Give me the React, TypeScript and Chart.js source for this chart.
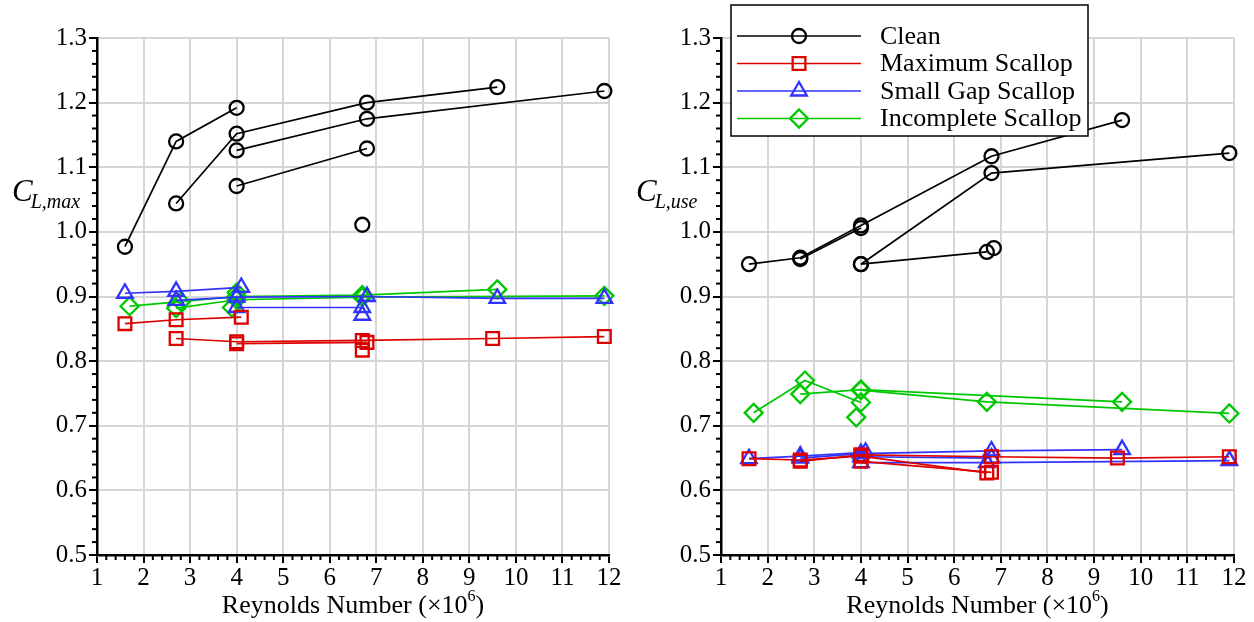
import React, { useEffect, useRef } from "react";
import { Chart, registerables } from "chart.js";

Chart.register(...registerables);

type Pt = [number, number];

// ---------- axis definitions ----------
const reMin = 1;
const reMax = 12;
const clMin = 0.5;
const clMax = 1.3;
const legendLabels = ["Clean", "Maximum Scallop", "Small Gap Scallop", "Incomplete Scallop"];

// ---------- Left panel: C_L,max ----------
const maxClean1: Pt[] = [[1.6, 0.977], [2.7, 1.140], [4.0, 1.192]];
const maxClean2: Pt[] = [[2.7, 1.044], [4.0, 1.152], [6.8, 1.200], [9.6, 1.224]];
const maxClean3: Pt[] = [[4.0, 1.126], [6.8, 1.175], [11.9, 1.218]];
const maxClean4: Pt[] = [[4.0, 1.071], [6.8, 1.129]];
const maxClean5: Pt[] = [[6.7, 1.011]];

const maxMS1: Pt[] = [[1.6, 0.858], [2.7, 0.864], [4.1, 0.868]];
const maxMS2: Pt[] = [[2.7, 0.835], [4.0, 0.830], [6.7, 0.832], [9.5, 0.835], [11.9, 0.838]];
const maxMS3: Pt[] = [[4.0, 0.827], [6.8, 0.829]];
const maxMS4: Pt[] = [[6.7, 0.817]];

const maxSG1: Pt[] = [[1.6, 0.905], [2.7, 0.908], [4.1, 0.914]];
const maxSG2: Pt[] = [[2.7, 0.894], [4.0, 0.899], [6.8, 0.900], [9.6, 0.897], [11.9, 0.897]];
const maxSG3: Pt[] = [[4.0, 0.883], [6.7, 0.883]];
const maxSG4: Pt[] = [[6.7, 0.871]];

const maxIS1: Pt[] = [[1.7, 0.885], [2.8, 0.892], [4.0, 0.900], [6.7, 0.902], [9.6, 0.911]];
const maxIS2: Pt[] = [[2.7, 0.882], [4.0, 0.895], [6.7, 0.899], [11.9, 0.901]];
const maxIS3: Pt[] = [[3.9, 0.883]];
const maxIS4: Pt[] = [[4.0, 0.906]];

// ---------- Right panel: C_L,use ----------
const useClean1: Pt[] = [[1.6, 0.950], [2.7, 0.960], [4.0, 1.010], [6.8, 1.117], [9.6, 1.173]];
const useClean2: Pt[] = [[2.7, 0.958], [4.0, 1.006]];
const useClean3: Pt[] = [[4.0, 0.950], [6.8, 1.091], [11.9, 1.122]];
const useClean4: Pt[] = [[4.0, 0.950], [6.7, 0.969]];
const useClean5: Pt[] = [[6.85, 0.975]];

const useMS1: Pt[] = [[1.6, 0.649], [2.7, 0.647], [4.0, 0.653], [6.7, 0.627]];
const useMS2: Pt[] = [[2.7, 0.645], [4.0, 0.655], [6.8, 0.652], [9.5, 0.650], [11.9, 0.652]];
const useMS3: Pt[] = [[4.0, 0.645], [6.8, 0.628]];

const useSG1: Pt[] = [[1.6, 0.649], [2.7, 0.653], [4.1, 0.659]];
const useSG2: Pt[] = [[2.7, 0.650], [4.0, 0.657], [6.8, 0.661], [9.6, 0.663]];
const useSG3: Pt[] = [[4.0, 0.643], [6.7, 0.643], [11.9, 0.646]];
const useSG4: Pt[] = [[4.0, 0.652], [6.8, 0.650]];

const useIS1: Pt[] = [[1.7, 0.720], [2.8, 0.770], [4.0, 0.736]];
const useIS2: Pt[] = [[2.7, 0.749], [4.0, 0.756], [9.6, 0.737]];
const useIS3: Pt[] = [[4.0, 0.755], [6.7, 0.737], [11.9, 0.719]];
const useIS4: Pt[] = [[3.9, 0.713]];

type Kind = "clean" | "max" | "gap" | "inc";

const leftSeries: [Kind, Pt[]][] = [
  ["clean", maxClean1], ["clean", maxClean2], ["clean", maxClean3], ["clean", maxClean4], ["clean", maxClean5],
  ["max", maxMS1], ["max", maxMS2], ["max", maxMS3], ["max", maxMS4],
  ["gap", maxSG1], ["gap", maxSG2], ["gap", maxSG3], ["gap", maxSG4],
  ["inc", maxIS1], ["inc", maxIS2], ["inc", maxIS3], ["inc", maxIS4],
];

const rightSeries: [Kind, Pt[]][] = [
  ["clean", useClean1], ["clean", useClean2], ["clean", useClean3], ["clean", useClean4], ["clean", useClean5],
  ["max", useMS1], ["max", useMS2], ["max", useMS3],
  ["gap", useSG1], ["gap", useSG2], ["gap", useSG3], ["gap", useSG4],
  ["inc", useIS1], ["inc", useIS2], ["inc", useIS3], ["inc", useIS4],
];

const SERIF = '"Liberation Serif", "Times New Roman", Times, serif';

const STYLES: Record<Kind, { color: string; pointStyle: any; radius: number }> = {
  clean: { color: "#000000", pointStyle: "circle", radius: 7 },
  max: { color: "#dd0000", pointStyle: "rect", radius: 9 },
  gap: { color: "#3232ff", pointStyle: "triangle", radius: 9 },
  inc: { color: "#00c800", pointStyle: "rectRot", radius: 9 },
};
const KIND_ORDER: Kind[] = ["clean", "max", "gap", "inc"];

function drawMarker(ctx: CanvasRenderingContext2D, kind: Kind, x: number, y: number) {
  const st = STYLES[kind];
  ctx.save();
  ctx.strokeStyle = st.color;
  ctx.lineWidth = 2.3;
  ctx.beginPath();
  const r = st.radius;
  if (kind === "clean") {
    ctx.arc(x, y, r, 0, Math.PI * 2);
  } else if (kind === "max") {
    const s = r * Math.SQRT1_2;
    ctx.rect(x - s, y - s, 2 * s, 2 * s);
  } else if (kind === "gap") {
    for (let i = 0; i < 3; i++) {
      const a = (i * 2 * Math.PI) / 3;
      const px = x + Math.sin(a) * r;
      const py = y - Math.cos(a) * r;
      if (i === 0) ctx.moveTo(px, py);
      else ctx.lineTo(px, py);
    }
    ctx.closePath();
  } else {
    ctx.moveTo(x, y - r);
    ctx.lineTo(x + r, y);
    ctx.lineTo(x, y + r);
    ctx.lineTo(x - r, y);
    ctx.closePath();
  }
  ctx.stroke();
  ctx.restore();
}

function decorPlugin(ySub: string, withLegend: boolean) {
  return {
    id: "decor",
    afterDraw(chart: any) {
      const ctx: CanvasRenderingContext2D = chart.ctx;
      const xs = chart.scales.x;
      const ys = chart.scales.y;
      ctx.save();
      // minor ticks
      ctx.strokeStyle = "#000";
      ctx.lineWidth = 2;
      for (let i = 0; i <= 55; i++) {
        if (i % 5 === 0) continue;
        const px = xs.getPixelForValue(reMin + i * 0.2);
        ctx.beginPath();
        ctx.moveTo(px, ys.bottom);
        ctx.lineTo(px, ys.bottom + 5);
        ctx.stroke();
      }
      for (let i = 0; i <= 40; i++) {
        if (i % 5 === 0) continue;
        const py = ys.getPixelForValue(clMin + i * 0.02);
        ctx.beginPath();
        ctx.moveTo(xs.left, py);
        ctx.lineTo(xs.left - 5, py);
        ctx.stroke();
      }

      // y-axis title C_{L,xxx}
      ctx.fillStyle = "#000";
      ctx.textBaseline = "alphabetic";
      ctx.textAlign = "left";
      ctx.font = `italic 31px ${SERIF}`;
      const cx = xs.left - 85;
      ctx.fillText("C", cx, 201);
      const cw = ctx.measureText("C").width;
      ctx.font = `italic 20px ${SERIF}`;
      ctx.fillText(ySub, cx + cw - 2, 208);

      // x-axis title
      const main = "Reynolds Number (\u00d710";
      ctx.font = `26px ${SERIF}`;
      const w1 = ctx.measureText(main).width;
      const w3 = ctx.measureText(")").width;
      ctx.font = `16px ${SERIF}`;
      const w2 = ctx.measureText("6").width;
      const total = w1 + w2 + w3;
      const mid = (xs.left + xs.right) / 2;
      let tx = mid - total / 2;
      ctx.font = `26px ${SERIF}`;
      ctx.fillText(main, tx, 613);
      tx += w1;
      ctx.font = `16px ${SERIF}`;
      ctx.fillText("6", tx, 601);
      tx += w2;
      ctx.font = `26px ${SERIF}`;
      ctx.fillText(")", tx, 613);

      if (withLegend) {
        const bx = 104;
        const by = 5;
        const bw = 357;
        const bh = 131;
        ctx.fillStyle = "#ffffff";
        ctx.fillRect(bx, by, bw, bh);
        ctx.strokeStyle = "#000";
        ctx.lineWidth = 1.5;
        ctx.strokeRect(bx, by, bw, bh);
        ctx.font = `26px ${SERIF}`;
        ctx.textBaseline = "middle";
        for (let i = 0; i < 4; i++) {
          const k = KIND_ORDER[i];
          const y = 36 + i * 27.5;
          ctx.strokeStyle = STYLES[k].color;
          ctx.lineWidth = 1.6;
          ctx.beginPath();
          ctx.moveTo(bx + 6, y);
          ctx.lineTo(bx + 130, y);
          ctx.stroke();
          drawMarker(ctx, k, bx + 68, y);
          ctx.fillStyle = "#000";
          ctx.fillText(legendLabels[i], bx + 149, y + 1);
        }
      }
      ctx.restore();
    },
  };
}

function buildConfig(series: [Kind, Pt[]][], yWidth: number, padRight: number, ySub: string, withLegend: boolean): any {
  const datasets = series.map(([kind, pts]) => {
    const st = STYLES[kind];
    return {
      data: pts.map(([x, y]) => ({ x, y })),
      showLine: true,
      borderColor: st.color,
      borderWidth: 1.7,
      backgroundColor: "rgba(0,0,0,0)",
      pointStyle: st.pointStyle,
      pointRadius: st.radius,
      pointBorderColor: st.color,
      pointBackgroundColor: "rgba(0,0,0,0)",
      pointBorderWidth: 2.3,
      clip: false,
    };
  });
  const tickFont = { family: SERIF, size: 25 };
  return {
    type: "scatter",
    data: { datasets },
    options: {
      responsive: false,
      animation: false,
      events: [],
      layout: { padding: { top: 38, right: padRight, left: 0, bottom: 0 } },
      plugins: { legend: { display: false }, tooltip: { enabled: false } },
      scales: {
        x: {
          type: "linear",
          min: reMin,
          max: reMax,
          ticks: { stepSize: 1, font: tickFont, color: "#000", padding: 0, maxRotation: 0, autoSkip: false },
          grid: { color: "#d6d6d6", lineWidth: 2, tickColor: "#000", tickLength: 8, tickWidth: 2 },
          border: { color: "#000", width: 2.5 },
          afterFit: (s: any) => { s.height = 67; },
        },
        y: {
          type: "linear",
          min: clMin,
          max: clMax,
          ticks: {
            stepSize: 0.1,
            font: tickFont,
            color: "#000",
            padding: 2,
            callback: (v: any) => Number(v).toFixed(1),
          },
          grid: { color: "#d6d6d6", lineWidth: 2, tickColor: "#000", tickLength: 8, tickWidth: 2 },
          border: { color: "#000", width: 2.5 },
          afterFit: (s: any) => { s.width = yWidth; },
        },
      },
    },
    plugins: [decorPlugin(ySub, withLegend)],
  };
}

export default function App() {
  const leftRef = useRef<HTMLCanvasElement>(null);
  const rightRef = useRef<HTMLCanvasElement>(null);

  useEffect(() => {
    const c1 = new Chart(leftRef.current as HTMLCanvasElement, buildConfig(leftSeries, 97, 18, "L,max", false));
    const c2 = new Chart(rightRef.current as HTMLCanvasElement, buildConfig(rightSeries, 94, 20, "L,use", true));
    return () => {
      c1.destroy();
      c2.destroy();
    };
  }, []);

  return (
    <div style={{ position: "absolute", left: 0, top: 0, width: 1254, height: 622, background: "#fff" }}>
      <canvas ref={leftRef} width={627} height={622} style={{ position: "absolute", left: 0, top: 0, width: 627, height: 622 }} />
      <canvas ref={rightRef} width={627} height={622} style={{ position: "absolute", left: 627, top: 0, width: 627, height: 622 }} />
    </div>
  );
}
